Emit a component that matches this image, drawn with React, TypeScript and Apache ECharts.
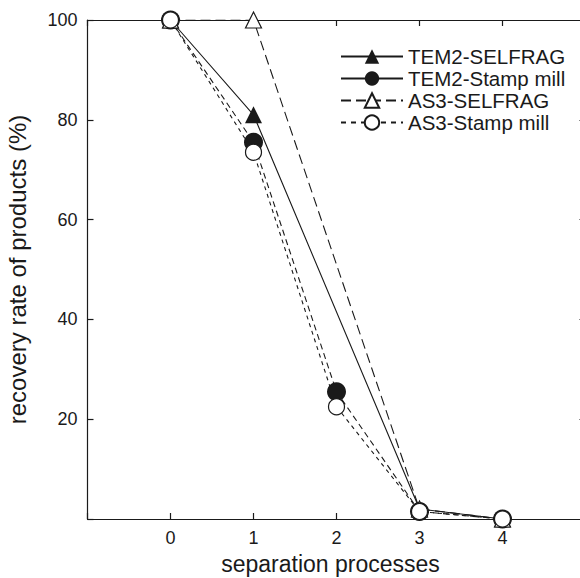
import React, { useEffect, useRef } from "react";
import * as echarts from "echarts";

const processSteps = [0, 1, 2, 3, 4];
const tem2Selfrag: [number, number][] = [[0, 100], [1, 81], [3, 2], [4, 0]];
const tem2Stamp: [number, number][] = [[0, 100], [1, 75.5], [2, 25.5], [3, 1.5], [4, 0]];
const as3Selfrag: [number, number][] = [[0, 100], [1, 100], [3, 2], [4, 0]];
const as3Stamp: [number, number][] = [[0, 100], [1, 73.5], [2, 22.5], [3, 1.5], [4, 0]];
const yTicks = [20, 40, 60, 80, 100];

const FONT = "Liberation Sans";
const INK = "#1a1a1a";

export default function App() {
  const ref = useRef<HTMLDivElement>(null);
  useEffect(() => {
    if (!ref.current) return;
    const chart = echarts.init(ref.current, undefined, { renderer: "svg" });
    const axisCommon = {
      axisLine: { show: true, onZero: false, lineStyle: { color: INK, width: 1.2 } },
      axisTick: { show: true, inside: true, length: 6, lineStyle: { color: INK, width: 1.2 } },
      splitLine: { show: false },
    };
    const xLabel = (v: number) => (processSteps.includes(v) ? String(v) : "");
    const yLabel = (v: number) => (yTicks.includes(v) ? String(v) : "");
    const mk = (
      name: string,
      data: [number, number][],
      symbol: string,
      filled: boolean,
      size: number,
      lineType: any
    ) => ({
      name,
      type: "line",
      data,
      symbol,
      symbolSize: size,
      showSymbol: true,
      lineStyle: { color: INK, width: 1.1, type: lineType },
      itemStyle: {
        color: filled ? INK : "#ffffff",
        borderColor: INK,
        borderWidth: filled ? 0 : 1.2,
      },
      emphasis: { disabled: true },
    });
    chart.setOption({
      animation: false,
      backgroundColor: "#ffffff",
      textStyle: { fontFamily: FONT },
      grid: { left: 87.5, top: 20, width: 498, height: 499, outerBoundsMode: "none", containLabel: false },
      legend: {
        orient: "vertical",
        left: 335,
        top: 41,
        itemWidth: 62,
        itemHeight: 18,
        itemGap: 1,
        textStyle: { fontFamily: FONT, fontSize: 20.5, lineHeight: 18, color: INK, padding: [0, 0, 0, 0] },
        data: [
          { name: "TEM2-SELFRAG", lineStyle: { type: "solid" } },
          { name: "TEM2-Stamp mill", lineStyle: { type: "solid" } },
          { name: "AS3-SELFRAG", lineStyle: { type: [10, 5] } },
          { name: "AS3-Stamp mill", lineStyle: { type: [5, 5] } },
        ],
      },
      xAxis: [
        {
          type: "value",
          min: -1,
          max: 5,
          interval: 1,
          position: "bottom",
          name: "separation processes",
          nameLocation: "middle",
          nameGap: 33,
          nameTextStyle: { fontFamily: FONT, fontSize: 23, color: INK, padding: [0, 12, 0, 0] },
          axisLabel: { formatter: xLabel, fontFamily: FONT, fontSize: 18, color: INK, margin: 10 },
          ...axisCommon,
        },
        {
          type: "value",
          min: -1,
          max: 5,
          interval: 1,
          position: "top",
          axisLabel: { show: false },
          ...axisCommon,
        },
      ],
      yAxis: [
        {
          type: "value",
          min: 0,
          max: 100,
          interval: 20,
          position: "left",
          name: "recovery rate of products (%)",
          nameLocation: "middle",
          nameGap: 58,
          nameRotate: 90,
          nameTextStyle: { fontFamily: FONT, fontSize: 24, color: INK },
          axisLabel: { formatter: yLabel, fontFamily: FONT, fontSize: 18, color: INK, margin: 10 },
          ...axisCommon,
        },
        {
          type: "value",
          min: 0,
          max: 100,
          interval: 20,
          position: "right",
          axisLabel: { show: false },
          ...axisCommon,
        },
      ],
      series: [
        mk("TEM2-SELFRAG", tem2Selfrag, "triangle", true, 17, "solid"),
        mk("TEM2-Stamp mill", tem2Stamp, "circle", true, 19, [6, 4]),
        mk("AS3-SELFRAG", as3Selfrag, "triangle", false, 16, [10, 5]),
        mk("AS3-Stamp mill", as3Stamp, "circle", false, 16, [4, 4]),
      ],
    });
    return () => chart.dispose();
  }, []);
  return (
    <div
      ref={ref}
      style={{ position: "absolute", left: 0, top: 0, width: 580, height: 578, background: "#fff" }}
    />
  );
}
